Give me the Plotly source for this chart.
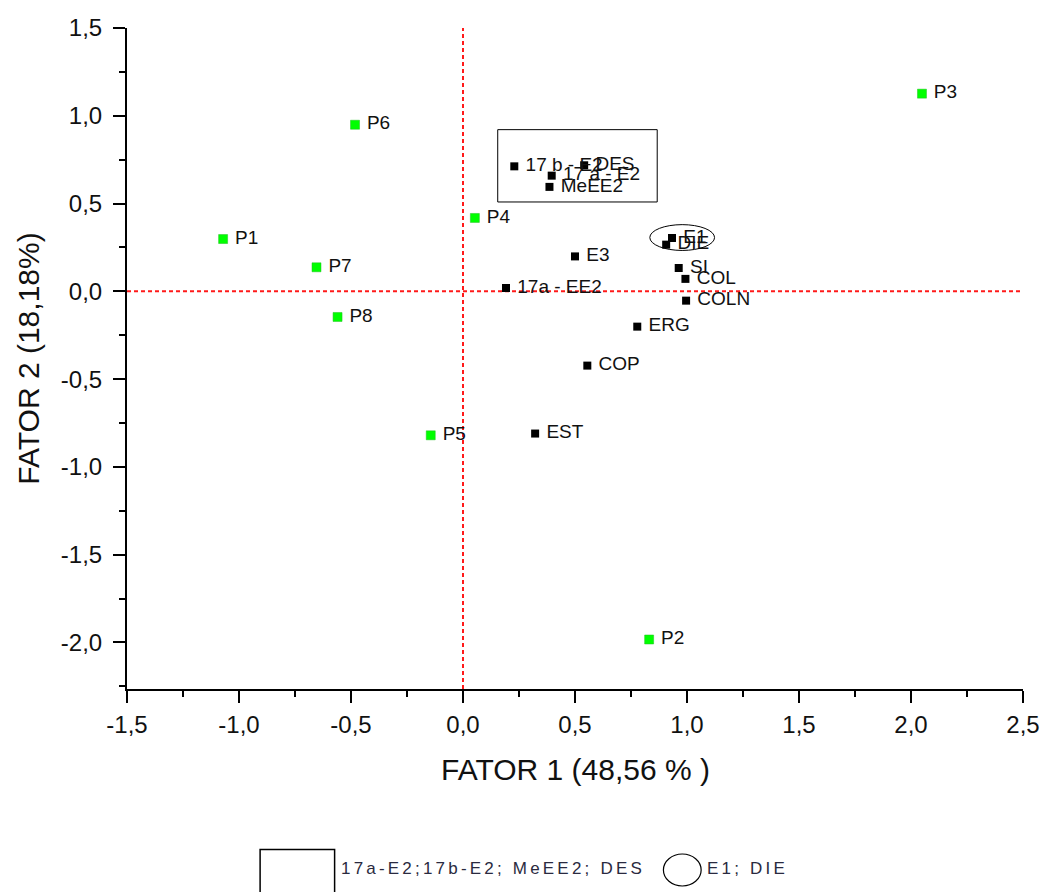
import plotly.graph_objects as go

# Sample scores (green) on the two factors
sample_names = ["P1", "P2", "P3", "P4", "P5", "P6", "P7", "P8"]
sample_f1 = [-1.071, 0.831, 2.049, 0.053, -0.144, -0.482, -0.654, -0.560]
sample_f2 = [0.298, -1.983, 1.126, 0.418, -0.820, 0.949, 0.137, -0.146]

# Variable loadings (black)
var_names = ["17 b - E2", "DES", "17 a - E2", "MeEE2", "E3", "17a - EE2", "E1", "DIE",
             "SI", "COL", "COLN", "ERG", "COP", "EST"]
var_f1 = [0.229, 0.541, 0.396, 0.386, 0.500, 0.192, 0.933, 0.907,
          0.963, 0.993, 0.996, 0.778, 0.555, 0.322]
var_f2 = [0.712, 0.718, 0.659, 0.595, 0.199, 0.019, 0.304, 0.266,
          0.133, 0.071, -0.053, -0.201, -0.423, -0.810]

# Highlighted groups
box_group = ["17 b - E2", "DES", "17 a - E2", "MeEE2"]
ellipse_group = ["E1", "DIE"]

x_ticks = [-1.5, -1.0, -0.5, 0.0, 0.5, 1.0, 1.5, 2.0, 2.5]
x_tick_labels = ["-1,5", "-1,0", "-0,5", "0,0", "0,5", "1,0", "1,5", "2,0", "2,5"]
y_ticks = [-2.0, -1.5, -1.0, -0.5, 0.0, 0.5, 1.0, 1.5]
y_tick_labels = ["-2,0", "-1,5", "-1,0", "-0,5", "0,0", "0,5", "1,0", "1,5"]

x_title = "FATOR 1 (48,56 % )"
y_title = "FATOR 2 (18,18%)"
legend_box_text = "17a-E2;17b-E2; MeEE2; DES"
legend_ellipse_text = "E1; DIE"

X_RANGE = [-1.5, 2.5]
Y_RANGE = [-2.265, 1.5]

W, H = 1052, 892
M_L, M_R, M_T, M_B = 127, 23, 28, 203
PLOT_W = W - M_L - M_R
PLOT_H = H - M_T - M_B

FONT = "Liberation Sans, Arial, sans-serif"


def px_x(px):
    """Pixel column -> paper x."""
    return (px - M_L) / PLOT_W


def px_y(py):
    """Pixel row -> paper y."""
    return (H - M_B - py) / PLOT_H


fig = go.Figure()

fig.add_trace(go.Scatter(
    x=sample_f1, y=sample_f2, text=sample_names, texttemplate=" %{text}",
    mode="markers+text", textposition="middle right",
    marker=dict(symbol="square", size=9, color="#00ff00",
                line=dict(color="#22c022", width=0.5)),
    textfont=dict(family=FONT, size=19, color="#111111"),
    cliponaxis=False, showlegend=False,
))

fig.add_trace(go.Scatter(
    x=var_f1, y=var_f2, text=var_names, texttemplate=" %{text}",
    mode="markers+text", textposition="middle right",
    marker=dict(symbol="square", size=8, color="#000000"),
    textfont=dict(family=FONT, size=19, color="#111111"),
    cliponaxis=False, showlegend=False,
))

shapes = []
# Reference lines through the origin
shapes.append(dict(type="line", xref="x", yref="paper", x0=0, x1=0, y0=0, y1=1,
                   line=dict(color="#ff1a1a", width=2, dash="4px,3px"), layer="below"))
shapes.append(dict(type="line", xref="paper", yref="y", x0=0, x1=1, y0=0, y1=0,
                   line=dict(color="#ff1a1a", width=2, dash="4px,3px"), layer="below"))

# Rectangle around the first group of loadings
bx = [var_f1[var_names.index(n)] for n in box_group]
by = [var_f2[var_names.index(n)] for n in box_group]
shapes.append(dict(type="rect", xref="x", yref="y",
                   x0=min(bx) - 0.074, x1=max(bx) + 0.326,
                   y0=min(by) - 0.086, y1=max(by) + 0.203,
                   line=dict(color="#000000", width=1)))

# Ellipse around the second group
ex = [var_f1[var_names.index(n)] for n in ellipse_group]
ey = [var_f2[var_names.index(n)] for n in ellipse_group]
shapes.append(dict(type="circle", xref="x", yref="y",
                   x0=min(ex) - 0.073, x1=max(ex) + 0.19,
                   y0=min(ey) - 0.033, y1=max(ey) + 0.076,
                   line=dict(color="#000000", width=1)))

# Key below the chart
shapes.append(dict(type="rect", xref="paper", yref="paper",
                   x0=px_x(261), x1=px_x(336), y0=px_y(905), y1=px_y(849.5),
                   line=dict(color="#000000", width=1.5)))
shapes.append(dict(type="circle", xref="paper", yref="paper",
                   x0=px_x(667), x1=px_x(705), y0=px_y(886), y1=px_y(854),
                   line=dict(color="#000000", width=1.2)))

annotations = [
    # Horizontal axis title below the tick labels
    dict(xref="paper", yref="paper", x=0.5, y=px_y(751),
         xanchor="center", yanchor="top", showarrow=False,
         text=x_title, font=dict(family=FONT, size=30, color="#111111")),
    dict(xref="paper", yref="paper", x=px_x(340), y=px_y(868),
         xanchor="left", yanchor="middle", align="left", showarrow=False,
         text=legend_box_text, font=dict(family=FONT, size=17, color="#2a2a40")),
    dict(xref="paper", yref="paper", x=px_x(709), y=px_y(868),
         xanchor="left", yanchor="middle", align="left", showarrow=False,
         text=legend_ellipse_text, font=dict(family=FONT, size=17, color="#2a2a40")),
]

axis_common = dict(
    showline=True, linecolor="#000000", linewidth=2, mirror=False,
    showgrid=False, zeroline=False,
    ticks="outside", ticklen=12, tickwidth=2, tickcolor="#000000",
    tickfont=dict(family=FONT, size=24, color="#111111"),
    minor=dict(ticks="outside", ticklen=6, tickwidth=2, tickcolor="#000000", dtick=0.25),
)

fig.update_layout(
    width=W, height=H,
    margin=dict(l=M_L, r=M_R, t=M_T, b=M_B),
    paper_bgcolor="white", plot_bgcolor="white",
    xaxis=dict(range=X_RANGE, tickvals=x_ticks, ticktext=x_tick_labels,
               ticklabelstandoff=1, **axis_common),
    yaxis=dict(range=Y_RANGE, tickvals=y_ticks, ticktext=y_tick_labels,
               ticklabelstandoff=6,
               title=dict(text=y_title, font=dict(family=FONT, size=30, color="#111111"),
                          standoff=12),
               **axis_common),
    shapes=shapes,
    annotations=annotations,
)

# Spread the key captions out a little
post_js = """
document.querySelectorAll('.annotation-text').forEach(function(t){
  if (t.textContent.indexOf(';') >= 0) { t.style.letterSpacing = '3.2px'; }
});
"""

fig.write_html("out.html", post_script=post_js)
